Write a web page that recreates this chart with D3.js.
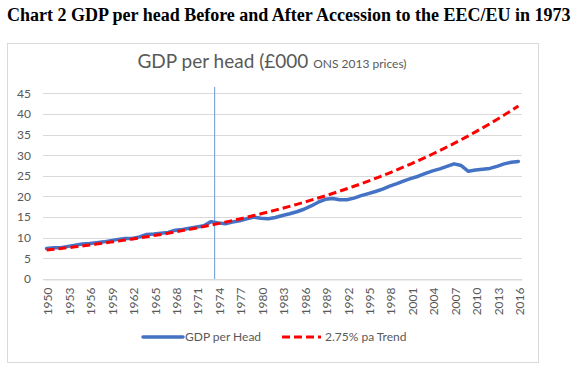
<!DOCTYPE html>
<html>
<head>
<meta charset="utf-8">
<script src="https://cdn.jsdelivr.net/npm/d3@7"></script>
<style>
  body { margin: 0; background: #fff; }
  text { font-family: Lato, "Open Sans", sans-serif; }
</style>
</head>
<body>
<div id="chart_div"></div>
<script>
// years on the category axis
var years = d3.range(1950, 2017);
var tickYears = years.filter(function(d){ return (d - 1950) % 3 == 0; });
var yTicks = [0, 5, 10, 15, 20, 25, 30, 35, 40, 45];

// GDP per head, £000 at ONS 2013 prices
var gdpPerHead = [7.4, 7.6, 7.6, 7.9, 8.2, 8.5, 8.6, 8.8, 9.0, 9.3,
                  9.6, 9.8, 9.8, 10.2, 10.8, 10.9, 11.1, 11.3, 11.8, 12.0,
                  12.3, 12.6, 12.9, 13.9, 13.6, 13.4, 13.8, 14.1, 14.6, 15.0,
                  14.7, 14.6, 14.9, 15.4, 15.8, 16.3, 16.9, 17.7, 18.6, 19.3,
                  19.5, 19.2, 19.2, 19.6, 20.2, 20.7, 21.2, 21.8, 22.5, 23.1,
                  23.8, 24.4, 24.9, 25.6, 26.2, 26.7, 27.3, 27.9, 27.5, 26.1,
                  26.4, 26.6, 26.8, 27.3, 27.9, 28.3, 28.5];

// 2.75% pa trend line as drawn
var trend = [7.00, 7.19, 7.39, 7.59, 7.80, 8.02, 8.24, 8.46, 8.70, 8.94,
             9.18, 9.43, 9.69, 9.96, 10.23, 10.52, 10.80, 11.10, 11.41, 11.72,
             12.04, 12.37, 12.71, 13.06, 13.42, 13.79, 14.17, 14.56, 14.96, 15.37,
             15.80, 16.23, 16.68, 17.14, 17.61, 18.09, 18.59, 19.10, 19.63, 20.16,
             20.72, 21.29, 21.87, 22.48, 23.09, 23.73, 24.38, 25.05, 25.74, 26.45,
             27.18, 27.92, 28.69, 29.48, 30.29, 31.12, 31.98, 32.86, 33.76, 34.69,
             35.65, 36.63, 37.63, 38.67, 39.73, 40.82, 41.95];

var seriesNames = ["GDP per Head", "2.75% pa Trend"];
var accessionYear = 1973;

var w = 583, h = 371;
var textGrey = "#595959";

var chart = d3.select("#chart_div")
    .append("svg")
    .attr("width", w)
    .attr("height", h);

// page heading
chart.append("text")
    .attr("x", 7)
    .attr("y", 21)
    .style("font-family", "'Liberation Serif', 'Times New Roman', serif")
    .style("font-weight", "bold")
    .style("font-size", "18px")
    .attr("fill", "#000")
    .text("Chart 2 GDP per head Before and After Accession to the EEC/EU in 1973");

// chart frame
chart.append("rect")
    .attr("x", 7.5)
    .attr("y", 43.5)
    .attr("width", 531)
    .attr("height", 319)
    .attr("fill", "#fff")
    .attr("stroke", "#d9d9d9")
    .attr("stroke-width", 1);

var title = chart.append("text")
    .attr("x", 272)
    .attr("y", 68)
    .attr("text-anchor", "middle")
    .attr("fill", textGrey);
title.append("tspan").style("font-size", "19px").text("GDP per head (£000 ");
title.append("tspan").style("font-size", "12px").text("ONS 2013 prices)");

var x = d3.scalePoint()
    .domain(years)
    .range([43, 522])
    .padding(0.5);

var y = d3.scaleLinear()
    .domain([0, 45])
    .range([279, 93.3]);

// gridlines
chart.append("g")
    .selectAll("line")
    .data(yTicks)
    .join("line")
    .attr("x1", 43)
    .attr("x2", 522)
    .attr("y1", function(d){ return Math.round(y(d)) + 0.5; })
    .attr("y2", function(d){ return Math.round(y(d)) + 0.5; })
    .attr("stroke", "#d9d9d9")
    .attr("stroke-width", 1);

// y axis labels
var yAxis = chart.append("g")
    .attr("transform", "translate(31,0)")
    .call(d3.axisLeft(y).tickValues(yTicks).tickSize(0).tickPadding(0));
yAxis.select(".domain").remove();
yAxis.selectAll("text")
    .attr("fill", textGrey)
    .style("font-size", "12px")
    .style("font-family", "Lato, sans-serif");

// x axis
var xAxis = chart.append("g")
    .attr("transform", "translate(0,279.5)")
    .call(d3.axisBottom(x).tickValues(tickYears).tickSize(0).tickPadding(0));
xAxis.select(".domain").attr("stroke", "#d9d9d9");
xAxis.selectAll("text")
    .attr("fill", textGrey)
    .style("font-size", "12px")
    .style("font-family", "Lato, sans-serif")
    .attr("text-anchor", "end")
    .attr("dy", "0.35em")
    .attr("transform", "translate(1,8) rotate(-90)")
    .attr("y", 0)
    .attr("x", 0);

// accession marker between 1973 and 1974
var accX = x(accessionYear) + x.step() / 2;
chart.append("line")
    .attr("x1", accX)
    .attr("x2", accX)
    .attr("y1", 87)
    .attr("y2", 279)
    .attr("stroke", "#7fa6dc")
    .attr("stroke-width", 1.2);

var line = d3.line()
    .x(function(d, i){ return x(years[i]); })
    .y(function(d){ return y(d); });

chart.append("path")
    .datum(gdpPerHead)
    .attr("d", line)
    .attr("fill", "none")
    .attr("stroke", "#4472c4")
    .attr("stroke-width", 3.5)
    .attr("stroke-linejoin", "round")
    .attr("stroke-linecap", "round");

chart.append("path")
    .datum(trend)
    .attr("d", line)
    .attr("fill", "none")
    .attr("stroke", "#ff0000")
    .attr("stroke-width", 3)
    .attr("stroke-dasharray", "8,4");

// legend
var legendY = 337;
chart.append("line")
    .attr("x1", 143).attr("x2", 183)
    .attr("y1", legendY).attr("y2", legendY)
    .attr("stroke", "#4472c4")
    .attr("stroke-width", 3.5)
    .attr("stroke-linecap", "round");
chart.append("text")
    .attr("x", 185).attr("y", legendY + 4)
    .attr("fill", textGrey)
    .style("font-size", "12px")
    .text(seriesNames[0]);

chart.append("line")
    .attr("x1", 282).attr("x2", 321)
    .attr("y1", legendY).attr("y2", legendY)
    .attr("stroke", "#ff0000")
    .attr("stroke-width", 3)
    .attr("stroke-dasharray", "8,4");
chart.append("text")
    .attr("x", 325).attr("y", legendY + 4)
    .attr("fill", textGrey)
    .style("font-size", "12px")
    .text(seriesNames[1]);
</script>
</body>
</html>
